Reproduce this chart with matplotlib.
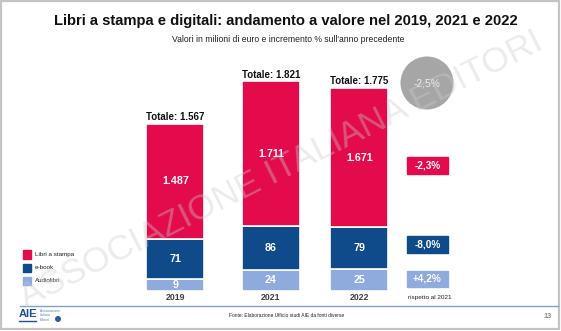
import matplotlib
matplotlib.use("Agg")
import matplotlib.pyplot as plt
from matplotlib.patches import Rectangle, Circle

plt.rcParams['font.family'] = ['Liberation Sans', 'DejaVu Sans']

# data
years = ["2019", "2021", "2022"]
stampa = [1487, 1711, 1671]
ebook = [71, 86, 79]
audio = [9, 24, 25]
totali = ["1.567", "1.821", "1.775"]
var_series = ["-2,3%", "-8,0%", "+4,2%"]
var_totale = "-2,5%"

RED = "#e30b4b"
BLUE = "#0f4a8a"
LIGHT = "#8faadc"

# the slide does not draw segments in proportion: each series has its own
# (offset, slope) in pixels, like a truncated axis
seg_scale = {"audio": (6.6, 0.6), "ebook": (21.6, 0.255), "stampa": (-81.3, 0.132)}

W, H = 561, 331
fig = plt.figure(figsize=(W / 100, H / 100), dpi=100)
ax = fig.add_axes([0, 0, 1, 1])
ax.set_xlim(0, W)
ax.set_ylim(H, 0)
ax.axis("off")

# frame
ax.add_patch(Rectangle((0.8, 0.8), W - 2.6, H - 2.4, fill=False, ec="#c4c4c4", lw=1.6))

ax.text(286, 21.5, "Libri a stampa e digitali: andamento a valore nel 2019, 2021 e 2022",
        ha="center", va="center", fontsize=10.6, fontweight="bold", color="#111111")
ax.text(288, 40, "Valori in milioni di euro e incremento % sull'anno precedente",
        ha="center", va="center", fontsize=6.25, color="#222222")

xpos = [175.5, 271, 359.5]
bw = 58
base = 290.5

for i, yr in enumerate(years):
    y = base
    for key, vals, col in [("audio", audio, LIGHT), ("ebook", ebook, BLUE), ("stampa", stampa, RED)]:
        a, b = seg_scale[key]
        h = a + b * vals[i]
        ax.bar(xpos[i], h, width=bw, bottom=y - h, color=col, ec="white", lw=1.2)
        lab = f"{vals[i]:,}".replace(",", ".")
        ax.text(xpos[i], y - h / 2, lab, ha="center", va="center", color="white",
                fontsize=7.7, fontweight="bold")
        y -= h
    ax.text(xpos[i], y - 6.5, "Totale: " + totali[i], ha="center", va="center",
            fontsize=7.0, fontweight="bold", color="#111111")
    ax.text(xpos[i], 298, yr, ha="center", va="center", fontsize=6.3,
            fontweight="bold", color="#404040")

# legend
for yc, col, lab in [(254, RED, "Libri a stampa"), (267.5, BLUE, "e-book"), (280.5, LIGHT, "Audiolibri")]:
    ax.add_patch(Rectangle((23, yc - 4), 8.5, 8.5, color=col))
    ax.text(35, yc + 0.3, lab, ha="left", va="center", fontsize=4.5, color="#222222")

# variation boxes
for yc, col, lab in [(165, RED, var_series[0]), (244, BLUE, var_series[1]), (278.5, LIGHT, var_series[2])]:
    ax.add_patch(Rectangle((407, yc - 8), 41, 16.5, color=col))
    ax.text(427.5, yc + 0.3, lab, ha="center", va="center", color="white",
            fontsize=7.2, fontweight="bold")
ax.text(408, 297, "rispetto al 2021", ha="left", va="center", fontsize=4.6, color="#222222")

ax.add_patch(Circle((427, 83), 26.5, color="#a6a6a6", lw=0))
ax.text(427, 84, var_totale, ha="center", va="center", color="#eeeeee", fontsize=7.4)

# watermark
ax.text(281, 170, "ASSOCIAZIONE ITALIANA EDITORI", ha="center", va="center",
        rotation=26.6, rotation_mode="anchor", fontsize=25.5, color="#cccccc",
        alpha=0.38, zorder=10)

# footer
ax.plot([20, 558], [306, 306], color="#7f9fcf", lw=1)
ax.text(287, 315.5, "Fonte: Elaborazione Ufficio studi AIE da fonti diverse", ha="center",
        va="center", fontsize=3.55, color="#222222")
ax.text(548, 317, "13", ha="center", va="center", fontsize=5.2, fontweight="bold", color="#8c8c8c")
ax.text(19, 314, "AIE", ha="left", va="center", fontsize=8, fontweight="bold", color="#1f4e9a")
ax.plot([19, 36], [320.5, 320.5], color="#1f4e9a", lw=1)
ax.text(40, 315.5, "Associazione\nItaliana\nEditori", ha="left", va="center",
        fontsize=2.4, color="#5b7fb8", linespacing=1.1)
ax.add_patch(Circle((58, 319), 3, color="#2c5aa0", lw=0))

fig.savefig("out.png", dpi=100)
